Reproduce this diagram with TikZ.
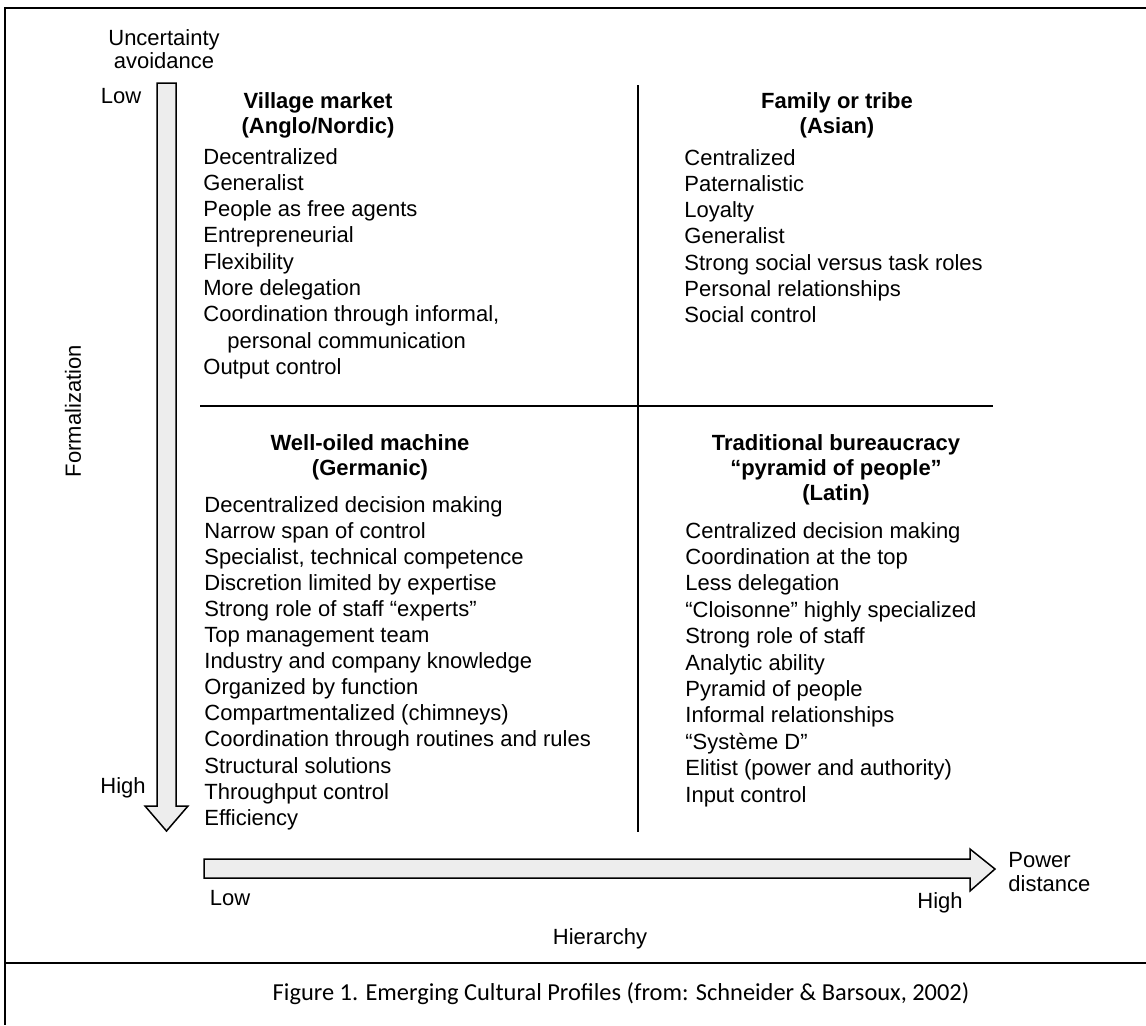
\documentclass[tikz,border=0pt]{standalone}
\usepackage{fontspec}
\setmainfont{Liberation Sans}
\newfontfamily\capfont{Carlito}
\begin{document}
\begin{tikzpicture}[x=0.5pt,y=-0.5pt,
  txt/.style={font=\fontsize{11}{13}\selectfont,inner sep=0pt,anchor=base west},
  ttl/.style={font=\fontsize{11}{13}\selectfont\bfseries,inner sep=0pt,anchor=base},
  lbl/.style={font=\fontsize{11}{13}\selectfont,inner sep=0pt,anchor=base},
  bigarrow/.style={draw,line width=0.75pt,fill=gray!14,line join=miter}]
\useasboundingbox (0,0) rectangle (1146,1025);
% frame and caption cell
\draw[line width=1.4pt] (1146,8) -- (5,8) -- (5,1025);
\draw[line width=1.1pt] (5,963) -- (1146,963);
\node[inner sep=0pt,anchor=base,font=\capfont\fontsize{12.2}{14}\selectfont] (cap) at (621,1000)
  {Figure 1. Emerging Cultural Profiles (from: Schneider \& Barsoux, 2002)};
% quadrant lines
\draw[line width=0.8pt] (638,85) -- (638,832);
\draw[line width=0.8pt] (200,406) -- (993,406);
% axis arrows
\draw[bigarrow] (157,83) -- (176,83) -- (176,806) -- (188,806) -- (166.5,831)
  -- (145,806) -- (157,806) -- cycle;
\draw[bigarrow] (204,859) -- (970,859) -- (970,849) -- (995,869) -- (970,891)
  -- (970,878) -- (204,878) -- cycle;
% axis labels
\node[lbl] (ua1) at (164,45) {Uncertainty};
\node[lbl] (ua2) at (164,68) {avoidance};
\node[lbl] (vlow) at (121,103) {Low};
\node[lbl] (vhigh) at (123,793) {High};
\node[inner sep=0pt,rotate=90,font=\fontsize{11}{13}\selectfont] (form) at (73,411) {Formalization};
\node[lbl] (hlow) at (230,905) {Low};
\node[lbl] (hhigh) at (940,908) {High};
\node[txt] (pd1) at (1008,867) {Power};
\node[txt] (pd2) at (1008,891) {distance};
\node[lbl] (hier) at (600,944) {Hierarchy};
% village market
\node[ttl] (vm1) at (318,108) {Village market};
\node[ttl] (vm2) at (318,133) {(Anglo/Nordic)};
\foreach \t [count=\i from 0] in {Decentralized, Generalist, People as free agents,
  Entrepreneurial, Flexibility, More delegation, {Coordination through informal,}}
  \node[txt] (vmi-\i) at (203,164+26.3*\i) {\t};
\node[txt] (vmi-7) at (227,164+26.3*7) {personal communication};
\node[txt] (vmi-8) at (203,164+26.3*8) {Output control};
% family or tribe
\node[ttl] (ft1) at (837,108) {Family or tribe};
\node[ttl] (ft2) at (837,133) {(Asian)};
\foreach \t [count=\i from 0] in {Centralized, Paternalistic, Loyalty, Generalist,
  Strong social versus task roles, Personal relationships, Social control}
  \node[txt] (fti-\i) at (684,165+26.3*\i) {\t};
% well-oiled machine
\node[ttl] (wm1) at (370,450) {Well-oiled machine};
\node[ttl] (wm2) at (370,475) {(Germanic)};
\foreach \t [count=\i from 0] in {Decentralized decision making, Narrow span of control,
  {Specialist, technical competence}, Discretion limited by expertise,
  Strong role of staff “experts”, Top management team, Industry and company knowledge,
  Organized by function, Compartmentalized (chimneys),
  Coordination through routines and rules, Structural solutions, Throughput control,
  Efficiency}
  \node[txt] (wmi-\i) at (204,512+26.1*\i) {\t};
% traditional bureaucracy
\node[ttl] (tb1) at (836,450) {Traditional bureaucracy};
\node[ttl] (tb2) at (836,475) {“pyramid of people”};
\node[ttl] (tb3) at (836,500) {(Latin)};
\foreach \t [count=\i from 0] in {Centralized decision making, Coordination at the top,
  Less delegation, “Cloisonne” highly specialized, Strong role of staff,
  Analytic ability, Pyramid of people, Informal relationships, “Système D”,
  Elitist (power and authority), Input control}
  \node[txt] (tbi-\i) at (685,538+26.4*\i) {\t};
\end{tikzpicture}
\end{document}
